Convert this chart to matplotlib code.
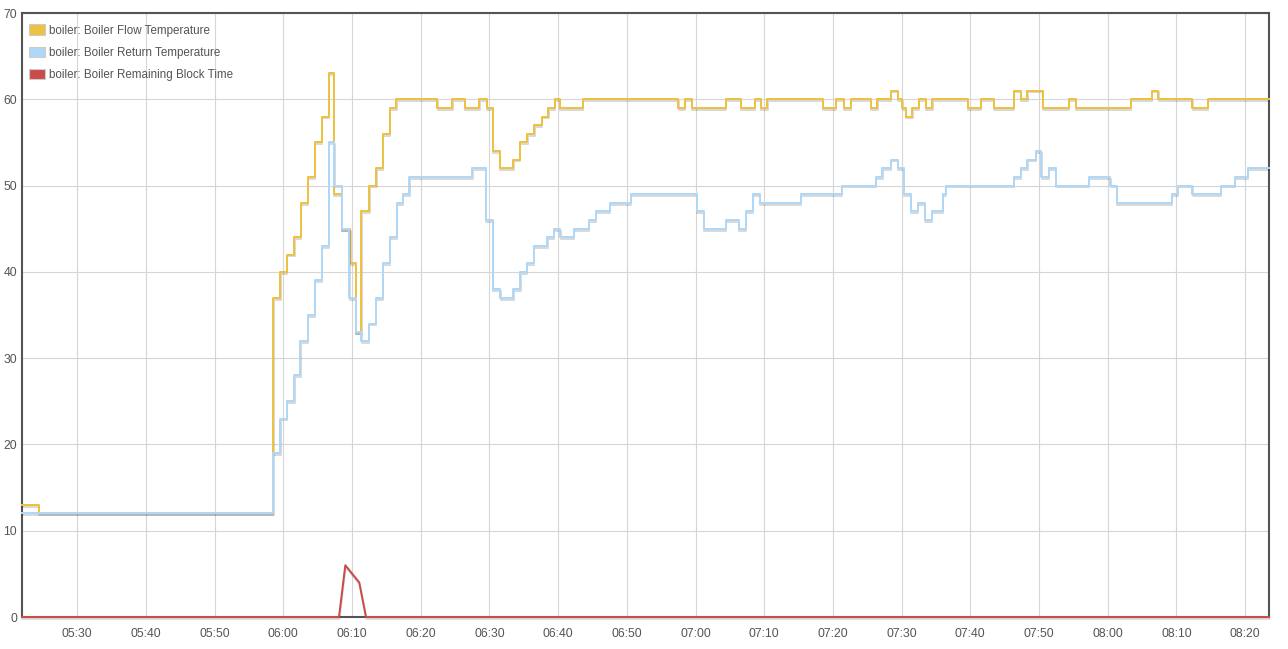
import matplotlib
matplotlib.use("Agg")
import matplotlib.pyplot as plt
import matplotlib.dates as mdates
import matplotlib.patheffects as pe
from matplotlib.patches import Patch
import pandas as pd

# ---- data (minutes after 05:00, value) ----
flow_min = [21.95, 24.42, 58.52, 59.55, 60.53, 61.59, 62.57, 63.54, 64.56, 65.62,
            66.6, 67.33, 68.54, 69.74, 70.57, 71.37, 72.51, 73.53, 74.46, 75.48,
            76.44, 82.41, 84.59, 86.44, 88.52, 89.6, 90.47, 91.54, 93.47, 94.45,
            95.51, 96.53, 97.61, 98.57, 99.54, 100.27, 103.58, 117.49, 118.47, 119.49,
            124.44, 126.62, 128.59, 129.53, 130.48, 138.49, 140.45, 141.62, 142.64, 145.55,
            146.49, 148.46, 149.41, 150.13, 150.64, 151.59, 152.54, 153.55, 154.5, 159.6,
            161.49, 163.45, 166.37, 167.39, 168.33, 170.52, 174.37, 175.39, 183.4, 186.46,
            187.4, 192.35, 194.54, 203.49]
flow_val = [13, 12, 37, 40, 42, 44, 48, 51, 55, 58,
            63, 49, 45, 41, 33, 47, 50, 52, 56, 59,
            60, 59, 60, 59, 60, 59, 54, 52, 53, 55,
            56, 57, 58, 59, 60, 59, 60, 59, 60, 59,
            60, 59, 60, 59, 60, 59, 60, 59, 60, 59,
            60, 61, 60, 59, 58, 59, 60, 59, 60, 59,
            60, 59, 61, 60, 61, 59, 60, 59, 60, 61,
            60, 59, 60, 60]

return_min = [21.95, 58.49, 59.55, 60.53, 61.59, 62.46, 63.54, 64.56, 65.62, 66.6,
              67.44, 68.54, 69.6, 70.54, 71.33, 72.42, 73.46, 74.46, 75.52, 76.5,
              77.42, 78.36, 87.53, 89.5, 90.45, 91.61, 93.5, 94.52, 95.47, 96.49,
              98.45, 99.4, 100.34, 102.31, 104.49, 105.51, 107.48, 110.54, 120.22, 121.24,
              124.44, 126.33, 127.35, 128.3, 129.39, 135.36, 141.33, 146.27, 147.22, 148.46,
              149.41, 150.28, 151.3, 152.32, 153.41, 154.36, 156.0, 156.4, 166.37, 167.39,
              168.33, 169.5, 170.37, 171.39, 172.41, 177.28, 180.41, 181.36, 189.37, 190.24,
              192.35, 196.5, 198.47, 200.43, 203.49]
return_val = [12, 19, 23, 25, 28, 32, 35, 39, 43, 55,
              50, 45, 37, 33, 32, 34, 37, 41, 44, 48,
              49, 51, 52, 46, 38, 37, 38, 40, 41, 43,
              44, 45, 44, 45, 46, 47, 48, 49, 47, 45,
              46, 45, 47, 49, 48, 49, 50, 51, 52, 53,
              52, 49, 47, 48, 46, 47, 49, 50, 51, 52,
              53, 54, 51, 52, 50, 51, 50, 48, 49, 50,
              49, 50, 51, 52, 52]

block_min = [21.95, 68.1, 69.02, 71.05, 72.03, 203.49]
block_val = [0, 0, 6, 4, 0, 0]

labels = ["boiler: Boiler Flow Temperature",
          "boiler: Boiler Return Temperature",
          "boiler: Boiler Remaining Block Time"]
colors = ["#edc240", "#afd8f8", "#cb4b4b"]
y_ticks = [0, 10, 20, 30, 40, 50, 60, 70]

base = pd.Timestamp("2024-01-01 05:00:00")
def to_time(mins):
    return [base + pd.Timedelta(minutes=m) for m in mins]

W, H = 1288, 649
fig = plt.figure(figsize=(W / 100, H / 100), dpi=100)
ax = fig.add_axes([22 / W, 1 - 617 / H, (1269 - 22) / W, (617 - 13) / H])

lw = 2 * 0.72
shadow = [pe.SimpleLineShadow(offset=(0.3, -1.3), shadow_color="k", alpha=0.15), pe.Normal()]

ax.plot(to_time(flow_min), flow_val, drawstyle="steps-post", color=colors[0], lw=lw,
        path_effects=shadow, zorder=3, clip_on=False)
ax.plot(to_time(return_min), return_val, drawstyle="steps-post", color=colors[1], lw=lw,
        path_effects=shadow, zorder=4, clip_on=False)
ax.plot(to_time(block_min), block_val, color=colors[2], lw=lw,
        path_effects=shadow, zorder=5, clip_on=False)

ax.set_xlim(to_time([flow_min[0]])[0], to_time([flow_min[-1]])[0])
ax.set_ylim(0, 70)
ax.set_yticks(y_ticks)
ax.xaxis.set_major_locator(mdates.MinuteLocator(byminute=range(0, 60, 10)))
ax.xaxis.set_major_formatter(mdates.DateFormatter("%H:%M"))

ax.grid(True, color="#d6d6d6", lw=0.8)
ax.set_axisbelow(True)
for s in ax.spines.values():
    s.set_color("#545454")
    s.set_linewidth(1.5)
ax.tick_params(axis="both", length=0, labelsize=8.8, labelcolor="#545454",
               labelfontfamily="Liberation Sans")
ax.tick_params(axis="y", pad=3.5)
ax.tick_params(axis="x", pad=8)

handles = [Patch(facecolor=c, edgecolor="#cccccc", linewidth=0.8) for c in colors]
ax.legend(handles, labels, loc="upper left", bbox_to_anchor=(0.0056, 0.981),
          frameon=False, borderpad=0, borderaxespad=0, handlelength=1.38,
          handleheight=0.95, handletextpad=0.34, labelspacing=0.86,
          prop={"family": "Liberation Sans", "size": 8.4}, labelcolor="#545454")

fig.savefig("out.png", dpi=100)
